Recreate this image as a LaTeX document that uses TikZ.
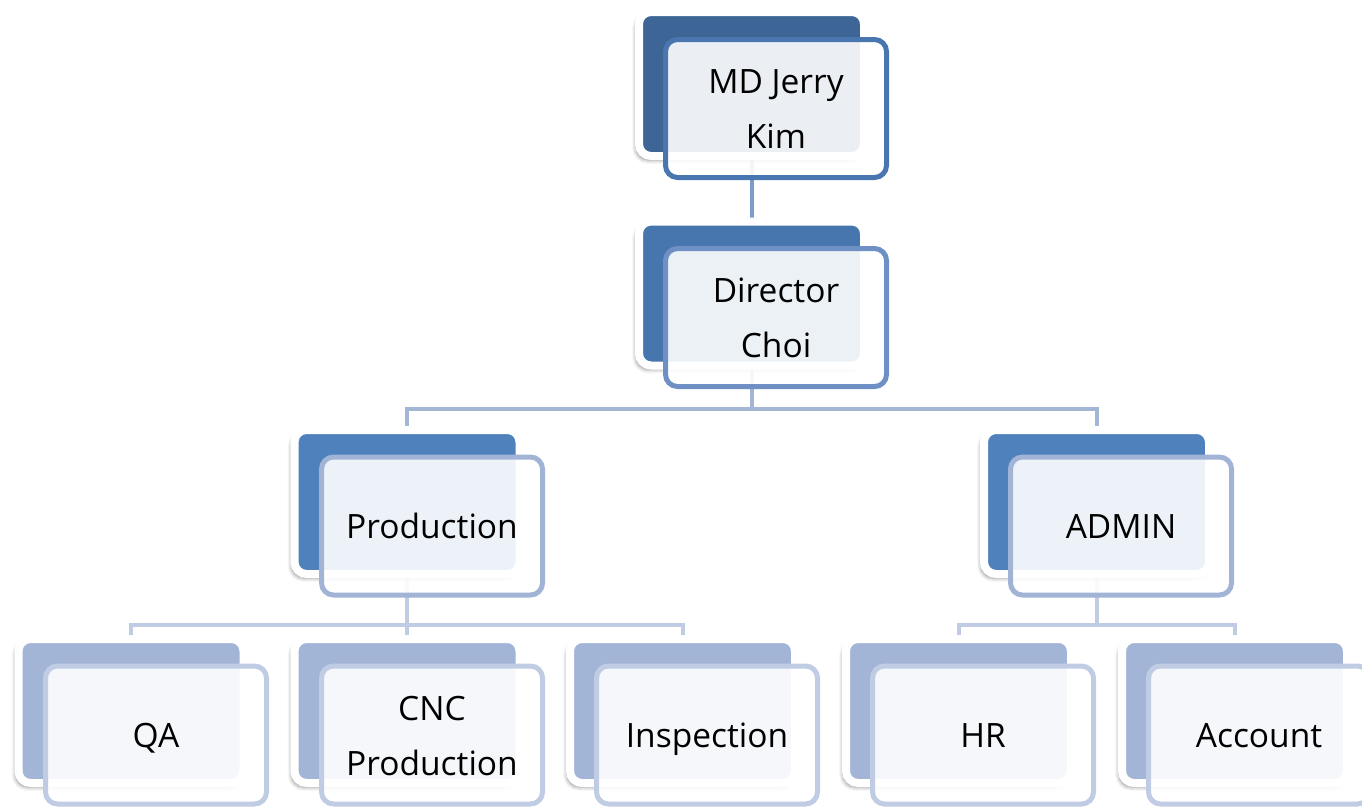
\documentclass[tikz,border=0pt]{standalone}
\usepackage{fontspec}
\setmainfont{Open Sans}
\usetikzlibrary{shadows.blur,backgrounds}
\definecolor{lvlAback}{HTML}{3D6596}
\definecolor{lvlAline}{HTML}{4A76AF}
\definecolor{lvlBback}{HTML}{4775AD}
\definecolor{lvlBline}{HTML}{6E90C5}
\definecolor{lvlCback}{HTML}{4F81BD}
\definecolor{lvlCline}{HTML}{A1B4D6}
\definecolor{lvlDback}{HTML}{A3B5D6}
\definecolor{lvlDline}{HTML}{C0CCE3}
\definecolor{connA}{HTML}{7B9BCB}
\definecolor{connB}{HTML}{A3B6D6}
\definecolor{connC}{HTML}{BFCCE4}
\newcommand{\lnstrut}{\rule[-15pt]{0pt}{55pt}}
\tikzset{
  backbox/.style={rectangle, rounded corners=12pt, minimum width=225pt, minimum height=144pt,
    inner sep=0pt, outer sep=0pt, draw=white, line width=8pt,
    blur shadow={shadow xshift=-3pt, shadow yshift=-4pt, shadow blur radius=4pt, shadow opacity=45}},
  frontbox/.style={rectangle, rounded corners=12pt, minimum width=221pt, minimum height=138pt,
    inner sep=0pt, outer sep=0pt, line width=5pt, fill=white, fill opacity=0.9, text opacity=1,
    align=center, font=\fontsize{33.5}{55}\selectfont},
  conn/.style={line width=4pt}
}
\begin{document}
\begin{tikzpicture}[x=1pt,y=-1pt]
\useasboundingbox (0,0) rectangle (1362,809);
% back boxes
\node[backbox, fill=lvlAback] (mdB) at (751.5,84) {};
\node[backbox, fill=lvlBback] (dirB) at (751.5,293.5) {};
\node[backbox, fill=lvlCback] (prodB) at (407,502) {};
\node[backbox, fill=lvlCback] (adminB) at (1096.5,502) {};
\node[backbox, fill=lvlDback] (qaB) at (131,711) {};
\node[backbox, fill=lvlDback] (cncB) at (407,711) {};
\node[backbox, fill=lvlDback] (inspB) at (682.5,711) {};
\node[backbox, fill=lvlDback] (hrB) at (958.5,711) {};
\node[backbox, fill=lvlDback] (accB) at (1234.5,711) {};
% front boxes
\node[frontbox, draw=lvlAline] (mdF) at (776,108.5) {\lnstrut MD Jerry\\\lnstrut Kim};
\node[frontbox, draw=lvlBline] (dirF) at (776,317.5) {\lnstrut Director\\\lnstrut Choi};
\node[frontbox, draw=lvlCline] (prodF) at (432,526) {\lnstrut Production};
\node[frontbox, draw=lvlCline] (adminF) at (1121,526) {\lnstrut ADMIN};
\node[frontbox, draw=lvlDline] (qaF) at (156,735) {\lnstrut QA};
\node[frontbox, draw=lvlDline] (cncF) at (432,735) {\lnstrut CNC\\\lnstrut Production};
\node[frontbox, draw=lvlDline] (inspF) at (707,735) {\lnstrut Inspection};
\node[frontbox, draw=lvlDline] (hrF) at (983,735) {\lnstrut HR};
\node[frontbox, draw=lvlDline] (accF) at (1259,735) {\lnstrut Account};
% connectors
\coordinate (j1) at (751.5,409);
\coordinate (j2) at (407,625);
\coordinate (j3) at (1096.5,625);
\begin{scope}[on background layer]
\draw[conn, connA] (mdB.south) -- (dirB.north);
\draw[conn, connB] (dirB.south) -- (j1);
\draw[conn, connB] (prodB.north) |- (j1) -| (adminB.north);
\draw[conn, connC] (prodB.south) -- (j2);
\draw[conn, connC] (qaB.north) |- (j2) -| (inspB.north);
\draw[conn, connC] (j2) -- (cncB.north);
\draw[conn, connC] (adminB.south) -- (j3);
\draw[conn, connC] (hrB.north) |- (j3) -| (accB.north);
\end{scope}
\end{tikzpicture}
\end{document}
